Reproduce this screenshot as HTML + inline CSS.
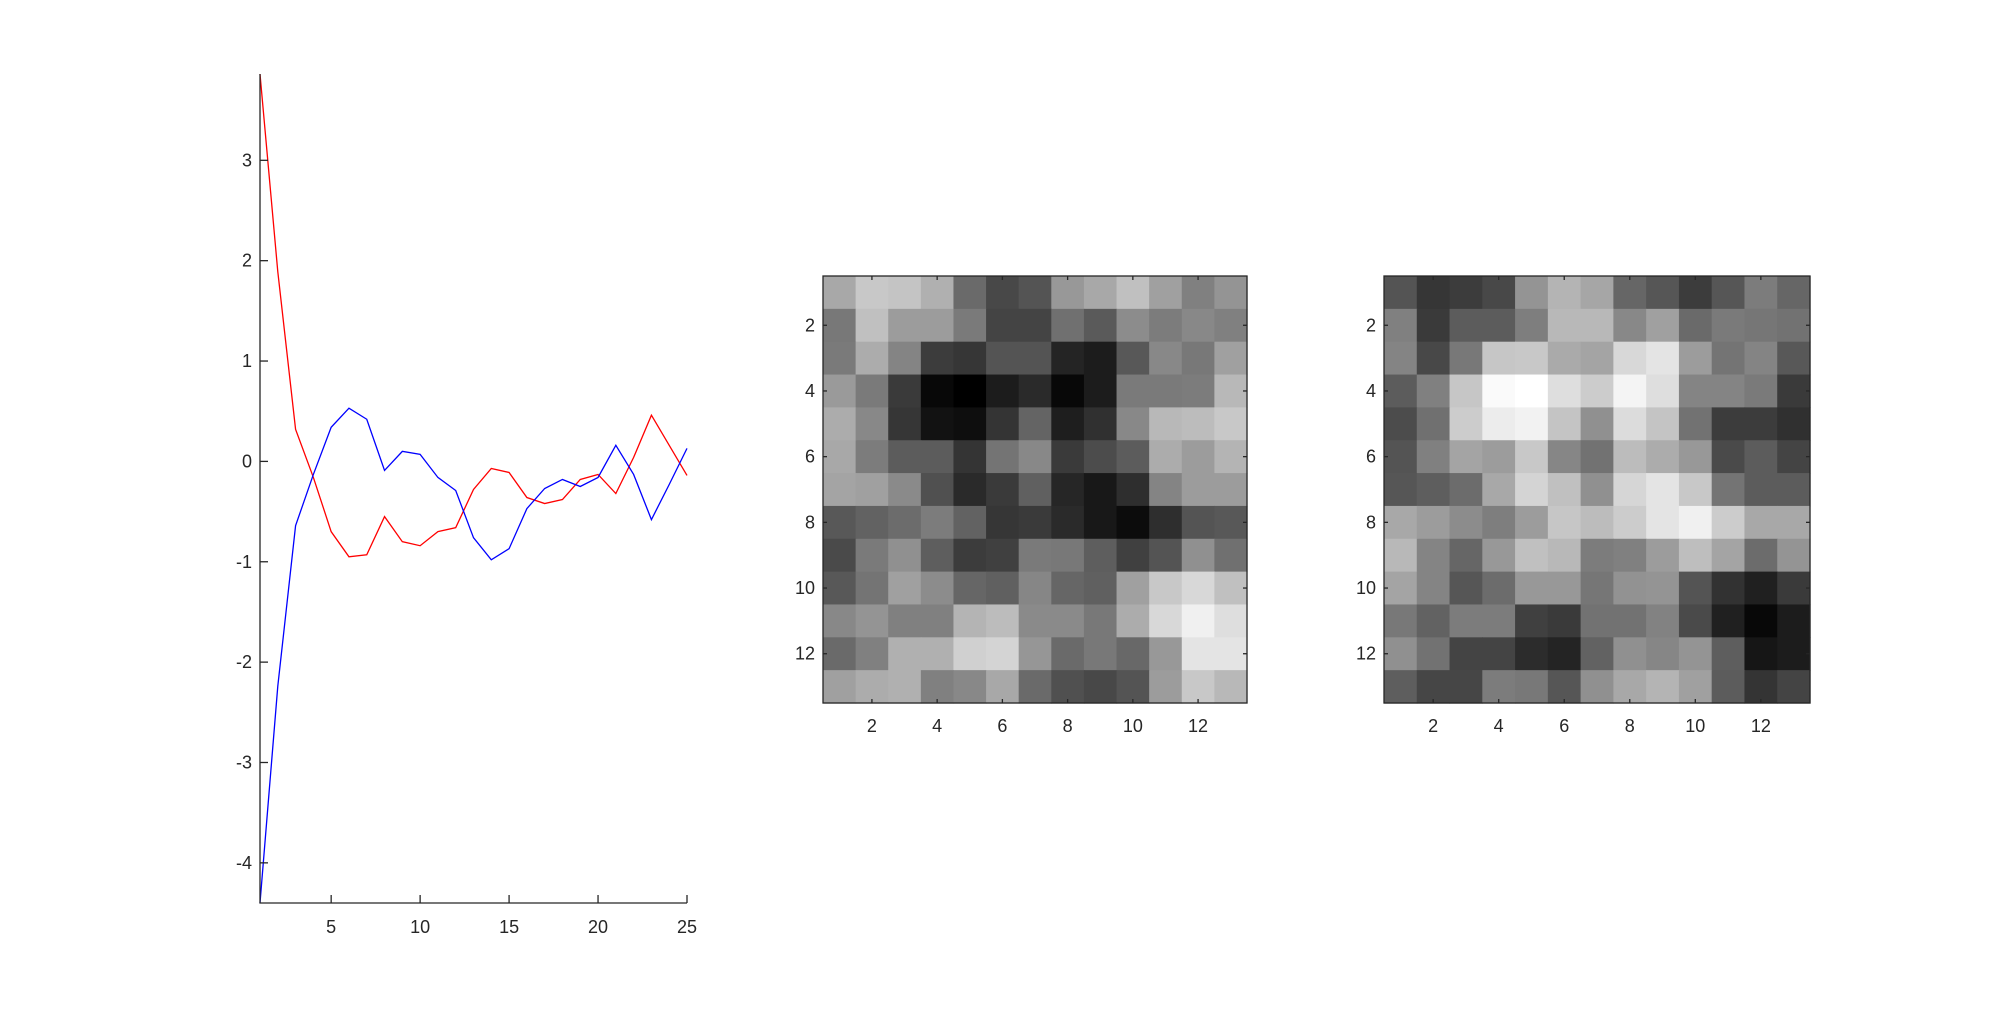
<!DOCTYPE html>
<html><head><meta charset="utf-8"><style>
html,body{margin:0;padding:0;background:#fff;}
svg{display:block;}
text{font-family:"Liberation Sans",Arial,sans-serif;font-size:18px;fill:#262626;}
</style></head><body>
<svg id="fig" width="2000" height="1016" viewBox="0 0 2000 1016" xmlns="http://www.w3.org/2000/svg">
<rect width="2000" height="1016" fill="#fff"/>
<g id="lineplot"></g>
<g id="hm1"></g>
<g id="hm2"></g>
</svg>
<script>
const xs = [1,2,3,4,5,6,7,8,9,10,11,12,13,14,15,16,17,18,19,20,21,22,23,24,25];
const redSeries = [3.86,1.89,0.32,-0.16,-0.70,-0.95,-0.93,-0.55,-0.80,-0.84,-0.70,-0.66,-0.28,-0.07,-0.11,-0.36,-0.42,-0.38,-0.18,-0.13,-0.32,0.04,0.46,0.16,-0.14];
const blueSeries = [-4.40,-2.24,-0.64,-0.13,0.34,0.53,0.42,-0.09,0.10,0.07,-0.16,-0.29,-0.76,-0.98,-0.87,-0.47,-0.27,-0.18,-0.25,-0.16,0.16,-0.13,-0.58,-0.23,0.13];
const lineXTicks = [5,10,15,20,25];
const lineYTicks = [-4,-3,-2,-1,0,1,2,3];
const hmTicks = [2,4,6,8,10,12];
const heat1 = [
"a8 c8 c4 b0 6a 48 54 98 a8 c0 a0 80 94",
"78 c0 9c 9c 7a 44 44 70 5a 8c 7c 88 80",
"7a ac 84 3c 36 54 54 24 1c 58 88 78 a0",
"9a 7a 3a 08 00 1c 2a 08 1c 7a 7a 7c b8",
"ac 88 36 12 0e 34 64 1e 30 88 b8 bc c8",
"a8 7c 5c 5c 34 74 88 3a 4c 5c ac 9c b4",
"a4 a0 8a 50 2a 3a 60 26 18 2e 84 9c 9c",
"58 62 6c 7c 62 36 3a 2a 18 0c 2e 54 58",
"4a 7a 90 5e 3c 40 7a 78 5e 40 54 90 70",
"58 74 a0 8c 66 60 86 66 60 a0 c8 d8 c0",
"88 94 80 80 b4 bc 8a 8a 78 ac d8 f0 de",
"6a 80 b0 b0 d0 d4 96 6a 78 68 98 e4 e4",
"a0 ac b0 80 88 a8 6a 50 48 54 9c c8 b8"];
const heat2 = [
"54 36 3c 48 94 b4 a6 66 56 3c 56 7c 66",
"80 3a 5c 5c 7e b8 b8 88 a0 6a 7a 76 72",
"84 48 78 c6 c8 aa a4 d8 e4 9c 74 84 58",
"5c 80 c6 fa ff de cc f4 de 84 84 7a 3a",
"4c 70 cc ec f2 c4 90 dc c4 72 3c 3c 30",
"54 80 a4 9c c8 86 72 bc ac 98 4a 5c 44",
"56 5e 6c a8 d4 c0 90 d6 e4 c8 74 5c 5c",
"a8 9c 8c 7e 9c c6 bc cc e4 f0 cc a8 a8",
"b8 84 66 98 c0 b8 7c 80 9c be a4 6c 94",
"a4 84 56 6c 98 98 76 92 94 54 32 20 3a",
"78 62 7c 7c 40 3a 72 72 82 4a 20 08 1c",
"90 72 44 44 2c 24 62 90 86 94 5e 16 1c",
"5e 46 46 7c 78 56 90 a8 b4 a0 5c 34 44"];

const NS="http://www.w3.org/2000/svg";
function mk(parent,tag,attrs,txt){const e=document.createElementNS(NS,tag);for(const k in attrs)e.setAttribute(k,attrs[k]);if(txt!==undefined)e.textContent=txt;parent.appendChild(e);return e;}

// line plot
(function(){
  const g=document.getElementById('lineplot');
  const L=260,R=687,T=74,B=903,ymin=-4.4,ymax=3.86;
  const sx=v=>L+(v-1)/(25-1)*(R-L);
  const sy=v=>B-(v-ymin)/(ymax-ymin)*(B-T);
  function series(vals,color,name){
    const d=vals.map((v,i)=>(i?'L':'M')+sx(xs[i]).toFixed(2)+','+sy(v).toFixed(2)).join('');
    const p=mk(g,'path',{d:d,fill:'none',stroke:color,'stroke-width':1.3});
    
    
  }
  series(redSeries,'#ff0000','red-line');
  series(blueSeries,'#0000ff','blue-line');
  const ax=mk(g,'path',{d:`M${L},${T}V${B}H${R}`,fill:'none',stroke:'#262626','stroke-width':1.3});
  
  
  lineXTicks.forEach(t=>{
    const x=sx(t);
    mk(g,'line',{x1:x,x2:x,y1:B,y2:B-8,stroke:'#262626','stroke-width':1.3});
    const tx=mk(g,'text',{x:x,y:B+30,'text-anchor':'middle'},String(t));
    
    
  });
  lineYTicks.forEach(t=>{
    const y=sy(t);
    mk(g,'line',{x1:L,x2:L+8,y1:y,y2:y,stroke:'#262626','stroke-width':1.3});
    const tx=mk(g,'text',{x:L-8,y:y+6,'text-anchor':'end'},String(t));
    
    
  });
})();

function heatmap(id,data,L,R,T,B){
  const g=document.getElementById(id);
  const n=13,cw=(R-L)/n,ch=(B-T)/n;
  data.forEach((row,r)=>{
    row.split(' ').forEach((h,c)=>{
      const rc=mk(g,'rect',{x:(L+c*cw).toFixed(2),y:(T+r*ch).toFixed(2),width:(cw+0.6).toFixed(2),height:(ch+0.6).toFixed(2),fill:'#'+h+h+h});
      
      
    });
  });
  const bx=mk(g,'rect',{x:L,y:T,width:R-L,height:B-T,fill:'none',stroke:'#262626','stroke-width':1.3});
  
  
  hmTicks.forEach(t=>{
    const x=L+(t-0.5)*cw, y=T+(t-0.5)*ch;
    mk(g,'line',{x1:x,x2:x,y1:B,y2:B-4,stroke:'#262626','stroke-width':1.3});
    mk(g,'line',{x1:x,x2:x,y1:T,y2:T+4,stroke:'#262626','stroke-width':1.3});
    mk(g,'line',{x1:L,x2:L+4,y1:y,y2:y,stroke:'#262626','stroke-width':1.3});
    mk(g,'line',{x1:R,x2:R-4,y1:y,y2:y,stroke:'#262626','stroke-width':1.3});
    const a=mk(g,'text',{x:x,y:B+29,'text-anchor':'middle'},String(t));
    
    
    const b=mk(g,'text',{x:L-8,y:y+6,'text-anchor':'end'},String(t));
    
    
  });
}
heatmap('hm1',heat1,823,1247,276,703);
heatmap('hm2',heat2,1384,1810,276,703);
</script>
</body></html>
